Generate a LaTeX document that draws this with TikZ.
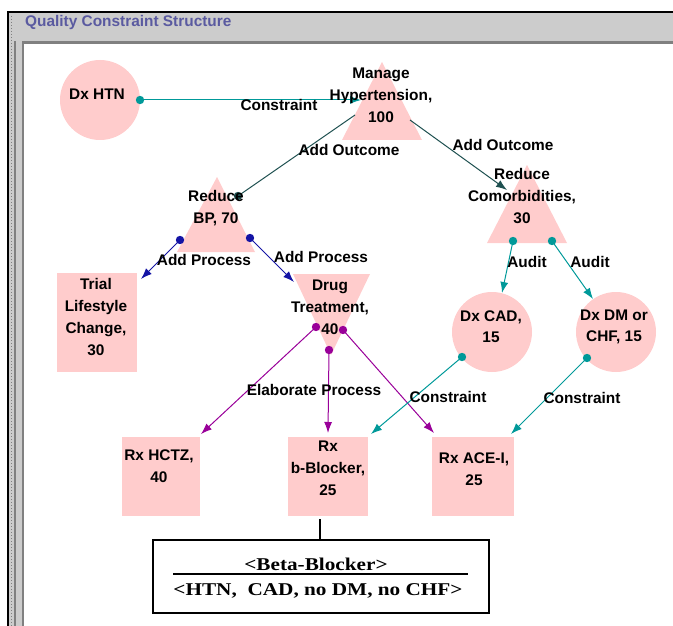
\documentclass[tikz,border=0pt]{standalone}
\usepackage{fontspec}
\usepackage{graphicx}
\setsansfont{Liberation Sans}
\setmainfont{Liberation Serif}
\usetikzlibrary{arrows.meta}
\definecolor{pinkfill}{RGB}{255,204,204}
\definecolor{tealc}{RGB}{0,153,153}
\definecolor{outc}{RGB}{30,80,80}
\definecolor{procc}{RGB}{20,20,165}
\definecolor{purpc}{RGB}{153,0,153}
\definecolor{titlec}{RGB}{90,90,160}
\definecolor{barc}{RGB}{204,204,204}
\definecolor{darkbar}{RGB}{128,128,128}
\begin{document}
\begin{tikzpicture}[x=1pt,y=-1pt,
  txt/.style={font=\sffamily\bfseries\fontsize{15.4}{22}\selectfont, inner sep=0pt, align=center},
  ctxt/.style={font=\sffamily\bfseries\fontsize{15.4}{21}\selectfont, inner sep=0pt, align=center},
  circ/.style={circle, fill=pinkfill, minimum size=80pt, inner sep=0pt},
  rbox/.style={rectangle, fill=pinkfill, inner sep=0pt},
  tri/.style={fill=pinkfill},
  conn/.style={line width=1pt, -{Latex[length=11pt,width=8pt]}},
  plain/.style={line width=1pt},
  serifb/.style={font=\rmfamily\bfseries\fontsize{18}{20}\selectfont, inner sep=0pt}
]
\useasboundingbox (0,0) rectangle (673,626);
% window frame
\fill[barc] (9,13) rectangle (673,41);
\fill[barc] (9,13) rectangle (22,626);
\fill[darkbar] (22,41) rectangle (24,626);
\fill[darkbar] (22,41) rectangle (673,44);
\fill[darkbar] (14,41) rectangle (16,626);
\draw[darkbar, dotted, line width=1pt] (11,16) -- (11,626);
\draw[line width=1.6pt] (8,626) -- (8,12) -- (673,12);
\node[anchor=west, font=\sffamily\bfseries\fontsize{15.4}{17}\selectfont, text=titlec, inner sep=0pt] (title) at (25,23) {Quality Constraint Structure};

% shapes
\node[circ] (dxhtn) at (100,100) {};
\node[circ] (dxcad) at (492,332) {};
\node[circ] (dxdm) at (616,332) {};
\fill[tri] (382,62) -- (342,140) -- (422,140) -- cycle;
\fill[tri] (217,177) -- (177,252) -- (255,252) -- cycle;
\fill[tri] (527,165) -- (487,243) -- (567,243) -- cycle;
\fill[tri] (293,274) -- (370,274) -- (331,355) -- cycle;
\node[rbox, minimum width=80pt, minimum height=99pt] (trial) at (97,322.5) {};
\node[rbox, minimum width=78pt, minimum height=79pt] (hctz) at (161,476.5) {};
\node[rbox, minimum width=80pt, minimum height=79pt] (bblock) at (328,476.5) {};
\node[rbox, minimum width=82pt, minimum height=79pt] (acei) at (473,476.5) {};

% ports
\coordinate (p-htn) at (140,100);
\coordinate (p-manin) at (361,100);
\coordinate (p-bpout) at (238,196);
\coordinate (p-manl) at (355,115);
\coordinate (p-manr) at (410,120);
\coordinate (p-comin) at (507,190);
\coordinate (p-bpl) at (180,240);
\coordinate (p-bpr) at (250,238);
\coordinate (p-trialin) at (141,279);
\coordinate (p-drugin) at (294,282);
\coordinate (p-coml) at (513,241);
\coordinate (p-comr) at (552,241);
\coordinate (p-cadin) at (502,293);
\coordinate (p-dmin) at (593,299);
\coordinate (p-drl) at (316,327);
\coordinate (p-drm) at (329,350);
\coordinate (p-drr) at (343,330);
\coordinate (p-hctzin) at (201,434);
\coordinate (p-bbin) at (328,433);
\coordinate (p-acein) at (434,433);
\coordinate (p-cadout) at (462,357);
\coordinate (p-dmout) at (587,358);
\coordinate (p-bbin2) at (371,434);
\coordinate (p-acein2) at (511,434);
\coordinate (p-bbbot) at (320,519);

% connectors
\draw[conn, tealc] (p-htn) -- (p-manin);
\fill[tealc] (p-htn) circle (4.2pt);
\draw[plain, outc] (p-bpout) -- (p-manl);
\fill[outc] (p-bpout) circle (4.2pt);
\draw[conn, outc] (p-manr) -- (p-comin);
\draw[conn, procc] (p-bpl) -- (p-trialin);
\fill[procc] (p-bpl) circle (4.2pt);
\draw[conn, procc] (p-bpr) -- (p-drugin);
\fill[procc] (p-bpr) circle (4.2pt);
\draw[conn, tealc] (p-coml) -- (p-cadin);
\fill[tealc] (p-coml) circle (4.2pt);
\draw[conn, tealc] (p-comr) -- (p-dmin);
\fill[tealc] (p-comr) circle (4.2pt);
\draw[conn, purpc] (p-drl) -- (p-hctzin);
\draw[conn, purpc] (p-drm) -- (p-bbin);
\draw[conn, purpc] (p-drr) -- (p-acein);
\fill[purpc] (p-drl) circle (4.2pt);
\fill[purpc] (p-drm) circle (4.2pt);
\fill[purpc] (p-drr) circle (4.2pt);
\draw[conn, tealc] (p-cadout) -- (p-bbin2);
\fill[tealc] (p-cadout) circle (4.2pt);
\draw[conn, tealc] (p-dmout) -- (p-acein2);
\fill[tealc] (p-dmout) circle (4.2pt);

% node texts
\node[txt] (t-dxhtn) at (97,94) {Dx HTN};
\node[txt] (t-manage) at (381,95) {Manage\\Hypertension,\\100};
\node[txt] (t-bp) at (216,208) {Reduce\\BP, 70};
\node[txt] (t-com) at (522,196) {Reduce\\Comorbidities,\\30};
\node[txt] (t-trial) at (96,317) {Trial\\Lifestyle\\Change,\\30};
\node[txt] (t-drug) at (330,307) {Drug\\Treatment,\\40};
\node[ctxt] (t-cad) at (491,327) {Dx CAD,\\15};
\node[ctxt] (t-dm) at (614,327) {Dx DM or\\CHF, 15};
\node[txt] (t-hctz) at (159,466) {Rx HCTZ,\\40};
\node[txt] (t-bb) at (328,468) {Rx\\b-Blocker,\\25};
\node[txt] (t-ace) at (474,469) {Rx ACE-I,\\25};

% connector labels
\node[txt] (l-c1) at (279,105) {Constraint};
\node[txt] (l-ao1) at (349,150) {Add Outcome};
\node[txt] (l-ao2) at (503,145) {Add Outcome};
\node[txt] (l-ap1) at (204,260) {Add Process};
\node[txt] (l-ap2) at (321,257) {Add Process};
\node[txt] (l-au1) at (527,262) {Audit};
\node[txt] (l-au2) at (590,262) {Audit};
\node[txt] (l-ep) at (314,390) {Elaborate Process};
\node[txt] (l-c2) at (448,397) {Constraint};
\node[txt] (l-c3) at (582,398) {Constraint};

% annotation box
\node[draw, line width=1.5pt, minimum width=336pt, minimum height=73pt, inner sep=0pt] (note) at (321,576.5) {};
\draw[line width=1.2pt] (p-bbbot) -- (note.north -| p-bbbot);
\draw[line width=1.5pt] (173,574) -- (468,574);
\node[serifb, anchor=base] (n1) at (316,570) {\scalebox{1.18}[1]{<Beta-Blocker>}};
\node[serifb, anchor=base] (n2) at (318,595) {\scalebox{1.18}[1]{<HTN,\ \ CAD, no DM, no CHF>}};
\end{tikzpicture}
\end{document}
